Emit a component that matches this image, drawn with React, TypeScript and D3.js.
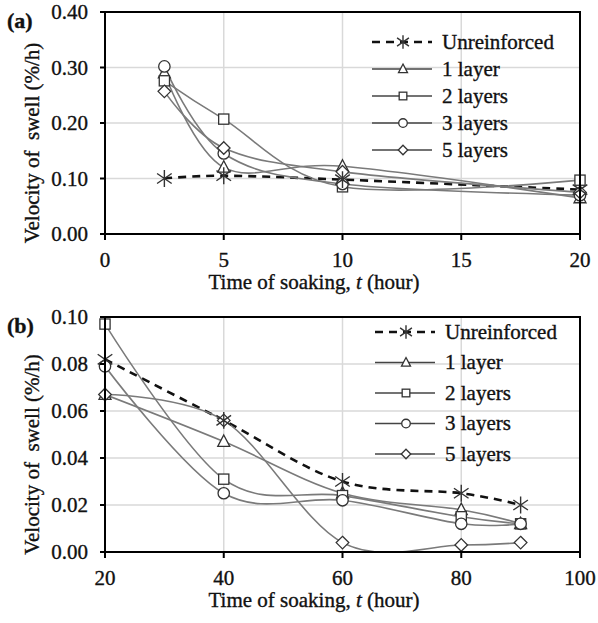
import React from "react";
import * as d3 from "d3";

// Panel (a): short soaking times
const timesA = [2.5, 5, 10, 20];
const unreinforcedA = [0.1, 0.105, 0.098, 0.08];
const layer1A = [0.29, 0.12, 0.122, 0.065];
const layers2A = [0.276, 0.207, 0.085, 0.097];
const layers3A = [0.302, 0.145, 0.09, 0.07];
const layers5A = [0.257, 0.155, 0.112, 0.075];

// Panel (b): long soaking times
const timesB = [20, 40, 60, 80, 90];
const unreinforcedB = [0.082, 0.056, 0.03, 0.025, 0.02];
const layer1B = [0.067, 0.047, 0.025, 0.018, 0.012];
const layers2B = [0.097, 0.031, 0.024, 0.015, 0.012];
const layers3B = [0.079, 0.025, 0.022, 0.012, 0.012];
const layers5B = [0.067, 0.056, 0.004, 0.003, 0.004];

const seriesNames = ["Unreinforced", "1 layer", "2 layers", "3 layers", "5 layers"];
const markerKinds = ["star", "triangle", "square", "circle", "diamond"];

const ticksXA = [0, 5, 10, 15, 20];
const ticksYA = [0, 0.1, 0.2, 0.3, 0.4];
const ticksXB = [20, 40, 60, 80, 100];
const ticksYB = [0, 0.02, 0.04, 0.06, 0.08, 0.1];

const xTitle = "Time of soaking, ";
const yTitle = "Velocity of  swell (%/h)";

const FONT = "'Liberation Serif', 'Times New Roman', serif";
const LINE_GRAY = "#7a7a7a";
const MARK_STROKE = "#333";
const TEXT = { fontFamily: FONT, fill: "#111", stroke: "#111", strokeWidth: 0.35 };

function Marker({ kind, x, y, s }: { kind: string; x: number; y: number; s: number }) {
  const h = s / 2;
  const common = { fill: "#fff", stroke: MARK_STROKE, strokeWidth: 1.3 };
  if (kind === "triangle") {
    return <path d={`M${x},${y - h * 1.1}L${x + h},${y + h * 0.8}L${x - h},${y + h * 0.8}Z`} {...common} />;
  }
  if (kind === "square") {
    return <rect x={x - h * 0.85} y={y - h * 0.85} width={h * 1.7} height={h * 1.7} {...common} />;
  }
  if (kind === "circle") {
    return <circle cx={x} cy={y} r={h * 0.95} {...common} />;
  }
  if (kind === "diamond") {
    return <path d={`M${x},${y - h * 1.05}L${x + h * 1.05},${y}L${x},${y + h * 1.05}L${x - h * 1.05},${y}Z`} {...common} />;
  }
  // asterisk: vertical bar plus an X
  const a = h * 1.05;
  const dx = a * 0.87;
  const dy = a * 0.6;
  return (
    <path
      d={`M${x},${y - a}L${x},${y + a}M${x - dx},${y - dy}L${x + dx},${y + dy}M${x - dx},${y + dy}L${x + dx},${y - dy}`}
      stroke={MARK_STROKE}
      strokeWidth={1.4}
      fill="none"
    />
  );
}

type PanelProps = {
  id: string;
  label: string;
  times: number[];
  series: number[][];
  xDomain: [number, number];
  yDomain: [number, number];
  xTicks: number[];
  yTicks: number[];
  top: number;
  bottom: number;
  legendTop: number;
  legendStep: number;
  legendX: number;
};

function Panel(p: PanelProps) {
  const left = 105;
  const right = 580;
  const x = d3.scaleLinear().domain(p.xDomain).range([left, right]);
  const y = d3.scaleLinear().domain(p.yDomain).range([p.bottom, p.top]);
  const line = d3
    .line<[number, number]>()
    .x((d) => x(d[0]))
    .y((d) => y(d[1]))
    .curve(d3.curveCatmullRom.alpha(0));
  const fmt = d3.format(".2f");
  const clipId = `clip-${p.id}`;
  const midY = (p.top + p.bottom) / 2;

  return (
    <g>
      <defs>
        <clipPath id={clipId}>
          <rect x={left} y={p.top} width={right - left} height={p.bottom - p.top} />
        </clipPath>
      </defs>
      {/* grid */}
      {p.yTicks.map((t) => (
        <line key={`gy${t}`} x1={left} x2={right} y1={y(t)} y2={y(t)} stroke="#d9d9d9" strokeWidth={1.5} />
      ))}
      {p.xTicks.map((t) => (
        <line key={`gx${t}`} x1={x(t)} x2={x(t)} y1={p.top} y2={p.bottom} stroke="#d9d9d9" strokeWidth={1.5} />
      ))}
      {/* series curves */}
      <g clipPath={`url(#${clipId})`}>
        {p.series.map((vals, i) => (
          <path
            key={`l${i}`}
            d={line(p.times.map((t, j) => [t, vals[j]] as [number, number])) || ""}
            fill="none"
            stroke={i === 0 ? "#111" : LINE_GRAY}
            strokeWidth={i === 0 ? 2.6 : 1.6}
            strokeDasharray={i === 0 ? "8,6" : undefined}
          />
        ))}
      </g>
      {/* markers */}
      {p.series
        .map((vals, i) => ({ vals, i }))
        .slice(1)
        .concat([{ vals: p.series[0], i: 0 }])
        .map(({ vals, i }) =>
          p.times.map((t, j) => (
            <Marker key={`m${i}-${j}`} kind={markerKinds[i]} x={x(t)} y={y(vals[j])} s={i === 0 ? 16 : 12} />
          ))
        )}
      {/* frame */}
      <rect x={left} y={p.top} width={right - left} height={p.bottom - p.top} fill="none" stroke="#000" strokeWidth={2} />
      {/* y axis ticks and labels */}
      {p.yTicks.map((t) => (
        <g key={`ty${t}`}>
          <line x1={left - 5} x2={left} y1={y(t)} y2={y(t)} stroke="#000" strokeWidth={2} />
          <text x={88} y={y(t)} dy="0.35em" textAnchor="end" fontSize={21} {...TEXT}>
            {fmt(t)}
          </text>
        </g>
      ))}
      {/* x axis ticks and labels */}
      {p.xTicks.map((t) => (
        <g key={`tx${t}`}>
          <line x1={x(t)} x2={x(t)} y1={p.bottom} y2={p.bottom + 6} stroke="#000" strokeWidth={2} />
          <text x={x(t)} y={p.bottom + 33} textAnchor="middle" fontSize={21} {...TEXT}>
            {t}
          </text>
        </g>
      ))}
      {/* axis titles */}
      <text x={314} y={p.bottom + 55} textAnchor="middle" fontSize={21} {...TEXT}>
        {xTitle}
        <tspan fontStyle="italic">t</tspan> (hour)
      </text>
      <text
        transform={`translate(39,${midY + 20}) rotate(-90)`}
        textAnchor="middle"
        fontSize={21}
        {...TEXT}
        xmlSpace="preserve"
        style={{ whiteSpace: "pre" }}
      >
        {yTitle}
      </text>
      {/* panel label */}
      <text x={7} y={p.top + 16} fontSize={22} fontWeight="bold" {...TEXT}>
        {p.label}
      </text>
      {/* legend */}
      {seriesNames.map((name, i) => {
        const ly = p.legendTop + i * p.legendStep;
        const lx = p.legendX;
        return (
          <g key={`lg${i}`}>
            <line
              x1={lx}
              x2={lx + 60}
              y1={ly}
              y2={ly}
              stroke={i === 0 ? "#111" : "#444"}
              strokeWidth={i === 0 ? 2.6 : 1.5}
              strokeDasharray={i === 0 ? "8,6" : undefined}
            />
            <Marker kind={markerKinds[i]} x={lx + 31} y={ly} s={i === 0 ? 13 : 9} />
            <text x={lx + 70} y={ly} dy="0.33em" fontSize={21} {...TEXT}>
              {name}
            </text>
          </g>
        );
      })}
    </g>
  );
}

export default function App() {
  return (
    <svg width={598} height={623} style={{ position: "absolute", left: 0, top: 0, background: "#fff" }}>
      <rect width={598} height={623} fill="#fff" />
      <Panel
        id="a"
        label="(a)"
        times={timesA}
        series={[unreinforcedA, layer1A, layers2A, layers3A, layers5A]}
        xDomain={[0, 20]}
        yDomain={[0, 0.4]}
        xTicks={ticksXA}
        yTicks={ticksYA}
        top={12}
        bottom={234}
        legendTop={42}
        legendStep={27}
        legendX={372}
      />
      <Panel
        id="b"
        label="(b)"
        times={timesB}
        series={[unreinforcedB, layer1B, layers2B, layers3B, layers5B]}
        xDomain={[20, 100]}
        yDomain={[0, 0.1]}
        xTicks={ticksXB}
        yTicks={ticksYB}
        top={317}
        bottom={552}
        legendTop={332}
        legendStep={30.5}
        legendX={375}
      />
    </svg>
  );
}
